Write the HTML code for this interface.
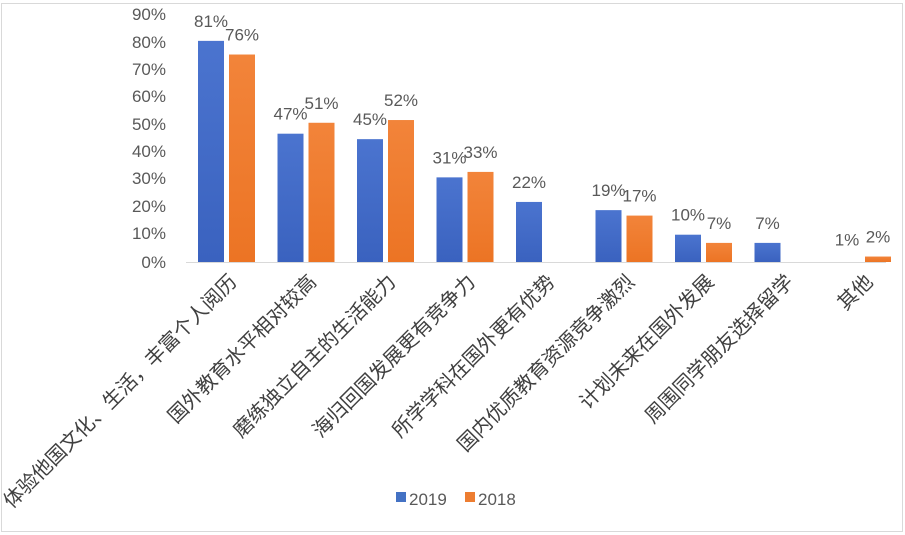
<!DOCTYPE html>
<html><head><meta charset="utf-8"><style>
body{margin:0;background:#fff}
svg{display:block;font-family:"Liberation Sans","Noto Sans CJK SC",sans-serif}
</style></head><body>
<svg width="905" height="535" viewBox="0 0 905 535">
<defs>
<linearGradient id="b" x1="0" x2="0" y1="0" y2="1"><stop offset="0" stop-color="#4b74cf"/><stop offset="1" stop-color="#3a62bf"/></linearGradient>
<linearGradient id="o" x1="0" x2="0" y1="0" y2="1"><stop offset="0" stop-color="#f2843a"/><stop offset="1" stop-color="#ec7424"/></linearGradient>
</defs>
<rect x="1.5" y="3.5" width="901" height="528" fill="#fff" stroke="#d9d9d9"/>
<g fill="#595959" font-size="17" text-anchor="end">
<text x="166" y="20">90%</text><text x="166" y="48">80%</text><text x="166" y="75">70%</text>
<text x="166" y="102">60%</text><text x="166" y="130">50%</text><text x="166" y="157">40%</text>
<text x="166" y="184">30%</text><text x="166" y="212">20%</text><text x="166" y="239">10%</text>
<text x="166" y="268">0%</text>
</g>
<line x1="186" y1="262.5" x2="886" y2="262.5" stroke="#d9d9d9"/>
<rect x="396" y="492" width="10" height="10" fill="#4472c4"/>
<text x="409" y="505" font-size="17" fill="#595959">2019</text>
<rect x="465" y="492" width="10" height="10" fill="#ed7d31"/>
<text x="478" y="505" font-size="17" fill="#595959">2018</text>
</svg>
<script>
const d=[[81,76,"体验他国文化、生活，丰富个人阅历"],[47,51,"国外教育水平相对较高"],[45,52,"磨练独立自主的生活能力"],[31,33,"海归回国发展更有竞争力"],[22,null,"所学学科在国外更有优势"],[19,17,"国内优质教育资源竞争激烈"],[10,7,"计划未来在国外发展"],[7,null,"周围同学朋友选择留学"],[1,2,"其他"]];
const NS="http://www.w3.org/2000/svg",svg=document.querySelector("svg");
function el(t,a,txt){const e=document.createElementNS(NS,t);for(const k in a)e.setAttribute(k,a[k]);if(txt!=null)e.textContent=txt;svg.appendChild(e);return e;}
const base=262,s=2.73;
d.forEach((r,i)=>{const x=198+i*79.5;
 [[r[0],x,"url(#b)"],[r[1],x+31,"url(#o)"]].forEach(([v,bx,f])=>{if(v==null)return;
  const h=v*s;if(v>1)el("rect",{x:bx,y:base-h,width:26,height:h,fill:f});
  el("text",{x:bx+13,y:base-h-14,"font-size":17,fill:"#595959","text-anchor":"middle"},v+"%");});
 const cx=x+40,cy=283;
 el("text",{x:cx,y:cy,"font-size":20,fill:"#404040","text-anchor":"end",transform:`rotate(-45 ${cx} ${cy})`},r[2]);
});
</script>
</body></html>
